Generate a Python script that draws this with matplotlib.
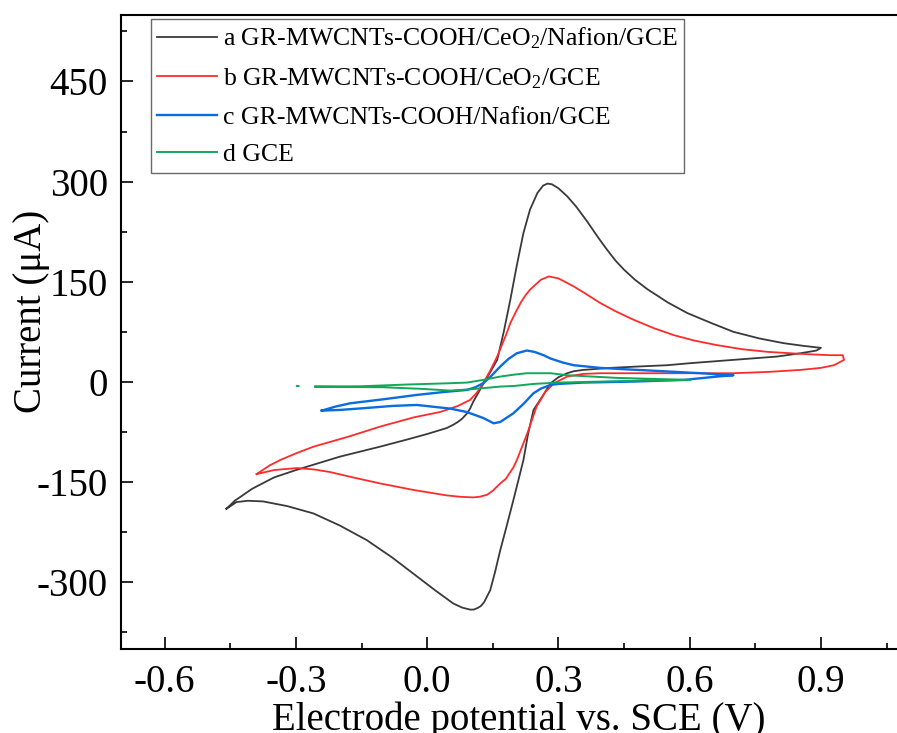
import numpy as np
import matplotlib
matplotlib.use("Agg")
import matplotlib.pyplot as plt
from matplotlib.ticker import MultipleLocator

plt.rcParams["font.family"] = ["Liberation Serif", "DejaVu Serif"]
plt.rcParams["mathtext.fontset"] = "custom"
plt.rcParams["mathtext.rm"] = "Liberation Serif"
plt.rcParams["mathtext.default"] = "regular"

# ===============================
# CV DATA  (potential in V vs. SCE, current in uA)
# ===============================
labels = [
    "a GR-MWCNTs-COOH/CeO$_2$/Nafion/GCE",
    "b GR-MWCNTs-COOH/CeO$_2$/GCE",
    "c GR-MWCNTs-COOH/Nafion/GCE",
    "d GCE",
]
colors = ["#3a3a3a", "#ff2b2b", "#0a6ce0", "#12a85a"]

# a: anodic sweep from -0.46 V up to 0.9 V, then back
a_E = [-0.459, -0.44, -0.40, -0.35, -0.30, -0.275, -0.20, -0.108, -0.05, 0.0,
       0.045, 0.06, 0.07, 0.08, 0.09, 0.098, 0.105, 0.118, 0.128, 0.14,
       0.16, 0.175, 0.19, 0.205, 0.22, 0.235, 0.252, 0.265, 0.275, 0.285,
       0.30, 0.32, 0.34, 0.366, 0.39, 0.41, 0.43, 0.45, 0.475, 0.503,
       0.55, 0.595, 0.65, 0.70, 0.76, 0.815, 0.86, 0.90,
       0.89, 0.854, 0.80, 0.70, 0.60, 0.549, 0.48, 0.419, 0.357, 0.335,
       0.32, 0.30, 0.282, 0.265, 0.243, 0.23, 0.22, 0.197, 0.18, 0.167,
       0.155, 0.144, 0.13, 0.122, 0.114, 0.106, 0.098, 0.08, 0.06, 0.02,
       -0.032, -0.08, -0.138, -0.20, -0.26, -0.32, -0.375, -0.41, -0.436, -0.459]
a_I = [-190, -178, -160, -143, -132, -127, -112, -97, -87, -78,
       -69, -64, -60, -55, -48, -40, -30, -15, -3, 10,
       33, 75, 123, 175, 223, 258, 283, 294, 297, 296,
       290, 278, 263, 240, 217, 199, 182, 168, 153, 139,
       119, 103, 88, 75, 65, 58, 54, 51,
       47, 43, 38, 33, 28, 25, 23, 21, 18, 16,
       13, 7, -2, -20, -42, -80, -117, -177, -220, -252,
       -285, -312, -330, -336, -339, -341, -341, -338, -332, -313,
       -287, -263, -237, -215, -197, -186, -179, -178, -180, -190]

# b
b_E = [-0.39, -0.36, -0.336, -0.30, -0.26, -0.18, -0.108, -0.03, 0.03, 0.07,
       0.098, 0.115, 0.128, 0.145, 0.16, 0.18, 0.19, 0.205, 0.215, 0.225,
       0.235, 0.243, 0.26, 0.278, 0.30, 0.335, 0.36, 0.396, 0.43, 0.472,
       0.52, 0.564, 0.61, 0.663, 0.72, 0.778, 0.854, 0.92, 0.95,
       0.953, 0.93, 0.90, 0.854, 0.78, 0.70, 0.55, 0.396, 0.357, 0.32,
       0.29, 0.27, 0.25, 0.23, 0.205, 0.197, 0.18, 0.167, 0.15, 0.137,
       0.12, 0.105, 0.075, 0.045, -0.03, -0.108, -0.17, -0.222, -0.26, -0.298,
       -0.35, -0.39]
b_I = [-138, -125, -117, -107, -97, -82, -67, -53, -45, -36,
       -27, -15, -2, 18, 38, 70, 88, 108, 120, 130,
       138, 143, 153, 158, 155, 143, 133, 118, 106, 93,
       80, 70, 62, 55, 49, 45, 42, 40, 40,
       33, 25, 21, 18, 15, 13, 13, 13, 12, 8,
       -2, -15, -37, -75, -117, -128, -145, -152, -163, -169,
       -172, -173, -172, -170, -162, -152, -143, -135, -131, -129,
       -132, -138]

# c
c_E = [-0.241, -0.21, -0.176, -0.10, -0.024, 0.04, 0.091, 0.11, 0.128, 0.145,
       0.167, 0.185, 0.205, 0.228, 0.245, 0.266, 0.282, 0.31, 0.335, 0.396,
       0.45, 0.51, 0.625, 0.70,
       0.663, 0.587, 0.472, 0.357, 0.30, 0.282, 0.26, 0.243, 0.22, 0.197,
       0.167, 0.152, 0.128, 0.09, 0.053, -0.024, -0.08, -0.138, -0.20, -0.241]
c_I = [-43, -37, -32, -26, -19.5, -15, -12, -8, -2, 8,
       23, 34, 43, 47, 45, 40, 35, 29, 25, 21,
       19, 17, 13, 10,
       8, 3, 0.5, -1, -3, -4.5, -10, -17, -33, -47,
       -60, -62, -54, -45, -40, -34.5, -36, -39, -42, -43]

# d (first sample sits apart from the rest of the scan)
d_E = [-0.298, -0.294, np.nan,
       -0.256, -0.15, -0.05, 0.05, 0.091, 0.128, 0.167, 0.20, 0.228, 0.282,
       0.32, 0.434, 0.602,
       0.50, 0.396, 0.30, 0.243, 0.20, 0.167, 0.10, 0.053, -0.01, -0.10,
       -0.20, -0.256]
d_I = [-6, -6, np.nan,
       -7, -6.5, -4, -2, -1, 3, 8, 11, 13, 13,
       10, 6, 3,
       2, 0.5, -1, -3, -6, -7, -11, -13, -10.5, -8,
       -7.5, -7]

series = [(a_E, a_I), (b_E, b_I), (c_E, c_I), (d_E, d_I)]
widths = [1.3, 1.3, 1.7, 1.4]

x_ticks = [-0.6, -0.3, 0.0, 0.3, 0.6, 0.9]
y_ticks = [-300, -150, 0, 150, 300, 450]

# ===============================
# PLOT
# ===============================
fig = plt.figure(figsize=(8.97, 7.33), dpi=100)
ax = fig.add_axes([0.1349, 0.1146, 0.8651, 0.8654])

for (E, I), lab, col, lw in zip(series, labels, colors, widths):
    ax.plot(E, I, color=col, lw=lw, label=lab, solid_joinstyle="round")

ax.set_xlim(-0.7, 1.074)
ax.set_ylim(-400, 550)
ax.set_xticks(x_ticks)
ax.set_xticklabels([f"{t:.1f}" for t in x_ticks])
ax.set_yticks(y_ticks)
ax.set_yticklabels([str(t) for t in y_ticks])
ax.xaxis.set_minor_locator(MultipleLocator(0.15))
ax.yaxis.set_minor_locator(MultipleLocator(75))

ax.tick_params(which="both", direction="in", width=1.2, labelsize=28)
ax.tick_params(which="major", length=8.6)
ax.tick_params(which="minor", length=4.3)
ax.tick_params(axis="x", pad=11)
ax.tick_params(axis="y", pad=9.5)
ax.tick_params(top=False, right=False, which="both")

for side in ["left", "bottom", "top"]:
    ax.spines[side].set_linewidth(1.5)
ax.spines["right"].set_visible(False)

ax.set_xlabel("Electrode potential vs. SCE (V)", fontsize=28)
ax.set_ylabel("Current (μA)", fontsize=28)
ax.xaxis.set_label_coords(0.512, -0.082)
ax.yaxis.set_label_coords(-0.092, 0.532)

leg = ax.legend(loc="upper left", bbox_to_anchor=(0.0387, 0.993),
                borderaxespad=0, fontsize=18.5, frameon=True, fancybox=False,
                handlelength=2.3, handletextpad=0.25, labelspacing=0.58,
                borderpad=0.25)
leg.get_frame().set_edgecolor("#444444")
leg.get_frame().set_linewidth(1.0)

fig.savefig("out.png", dpi=100)
